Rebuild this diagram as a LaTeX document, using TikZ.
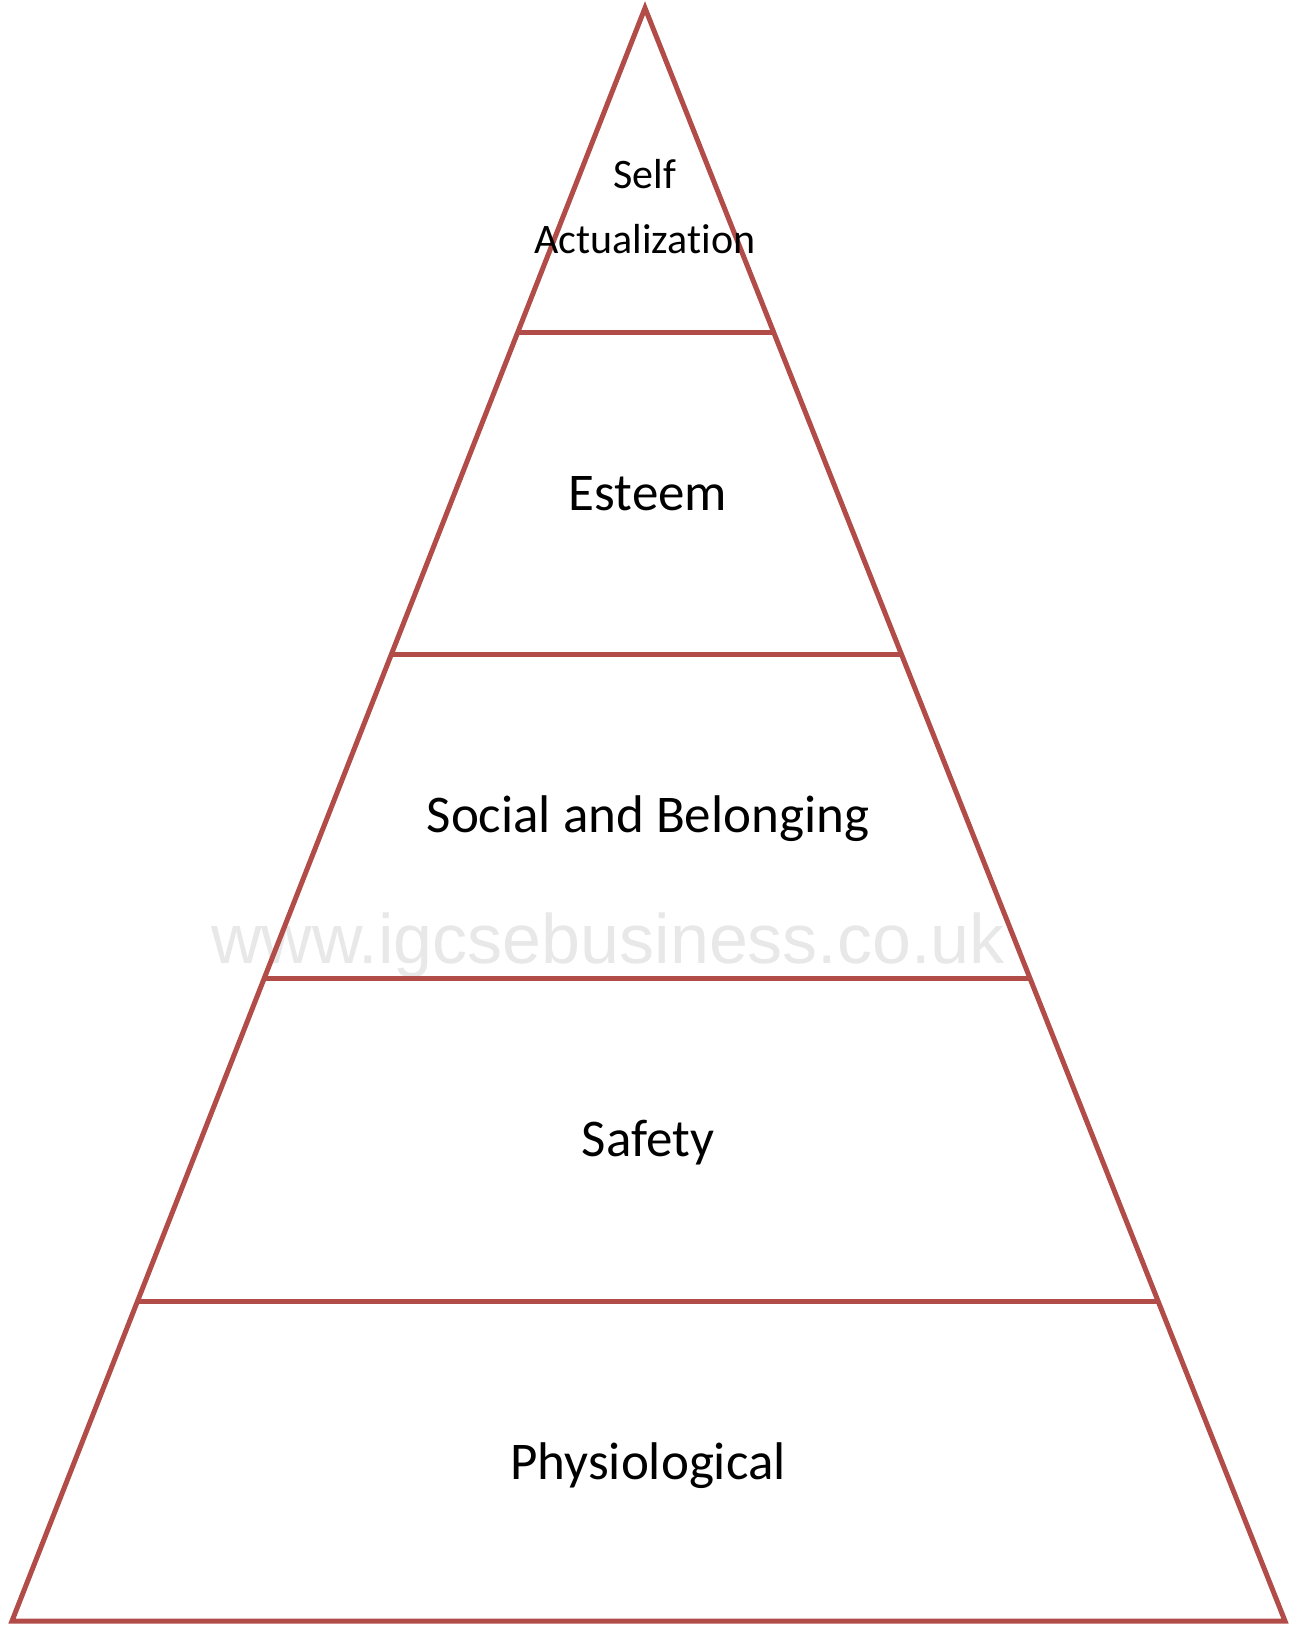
\documentclass[tikz,border=0pt]{standalone}
\usepackage{fontspec}
\setmainfont{Carlito}[Ligatures=NoCommon]
\newfontfamily\wmfont{Liberation Sans}
\usetikzlibrary{calc}
\definecolor{pyrred}{RGB}{178,76,72}
\definecolor{wmgrey}{RGB}{232,232,232}
\tikzset{
  pyrline/.style={draw=pyrred, line width=5pt, line join=miter},
  lvltext/.style={font=\fontsize{53}{60}\selectfont, text=black, inner sep=0pt},
  toptext/.style={font=\fontsize{42}{65}\selectfont, text=black, inner sep=0pt, align=center},
  wmtext/.style={font=\wmfont\fontsize{70}{80}\selectfont, text=wmgrey, inner sep=0pt}
}
\begin{document}
\begin{tikzpicture}[x=1pt,y=-1pt]
\useasboundingbox (0,0) rectangle (1301,1625);
% watermark behind
\node[wmtext, anchor=base] (wm) at (608,963) {www.igcsebusiness.co.uk};
% pyramid corners
\coordinate (apex) at (645,8);
\coordinate (bl) at (12,1621);
\coordinate (br) at (1285,1621);
\coordinate (l1) at ($(apex)!0.2009!(bl)$);
\coordinate (r1) at ($(apex)!0.2009!(br)$);
\coordinate (l2) at ($(apex)!0.4011!(bl)$);
\coordinate (r2) at ($(apex)!0.4011!(br)$);
\coordinate (l3) at ($(apex)!0.6014!(bl)$);
\coordinate (r3) at ($(apex)!0.6014!(br)$);
\coordinate (l4) at ($(apex)!0.8016!(bl)$);
\coordinate (r4) at ($(apex)!0.8016!(br)$);
\draw[pyrline] (apex) -- (bl) -- (br) -- cycle;
\draw[pyrline] (l1) -- (r1);
\draw[pyrline] (l2) -- (r2);
\draw[pyrline] (l3) -- (r3);
\draw[pyrline] (l4) -- (r4);
% labels
\node[toptext] (self) at (645,207) {Self\\Actualization};
\node[lvltext] (esteem) at (648,494) {Esteem};
\node[lvltext] (social) at (648,819) {Social and Belonging};
\node[lvltext] (safety) at (648,1143) {Safety};
\node[lvltext] (phys) at (648,1466) {Physiological};
\end{tikzpicture}
\end{document}
